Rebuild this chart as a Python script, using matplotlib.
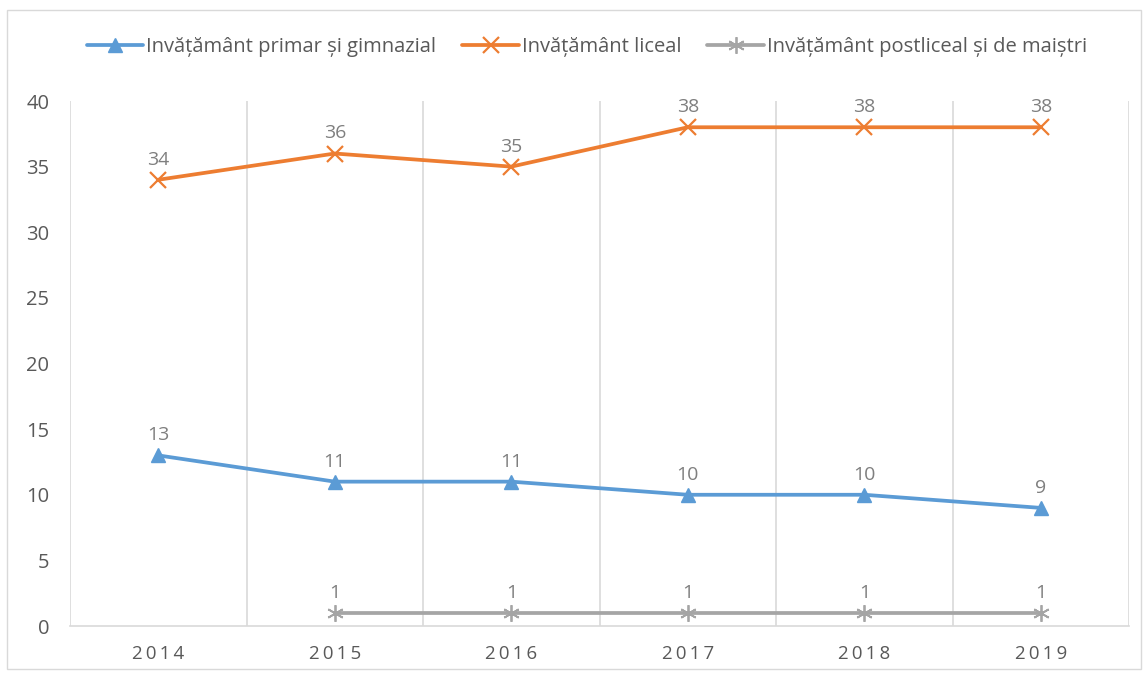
import matplotlib.pyplot as plt
import numpy as np
from matplotlib.patches import Rectangle

plt.rcParams['font.family'] = ['Open Sans', 'DejaVu Sans']

# === Data ===
years = ["2014", "2015", "2016", "2017", "2018", "2019"]
primar = [13, 11, 11, 10, 10, 9]
liceal = [34, 36, 35, 38, 38, 38]
postliceal = [np.nan, 1, 1, 1, 1, 1]

labels = ["Invățământ primar și gimnazial",
          "Invățământ liceal",
          "Invățământ postliceal și de maiștri"]

BLUE, ORANGE, GRAY = "#5B9BD5", "#ED7D31", "#A5A5A5"
TXT, LBL, GRID = "#595959", "#7F7F7F", "#D9D9D9"

fig = plt.figure(figsize=(11.44, 6.77), dpi=100)
ax = fig.add_axes([0.0612, 0.0753, 0.9257, 0.7755])

x = np.arange(len(years))
series = [
    (primar, BLUE, "^", dict(markersize=10)),
    (liceal, ORANGE, "x", dict(markersize=11, markeredgewidth=1.6)),
    (postliceal, GRAY, (6, 2, 0), dict(markersize=12, markeredgewidth=1.3)),
]
for (vals, col, mk, kw), lab in zip(series, labels):
    ax.plot(x, vals, color=col, lw=2.7, marker=mk, markerfacecolor=col,
            markeredgecolor=col, label=lab, solid_capstyle="round", **kw)
    for xi, v in zip(x, vals):
        if np.isnan(v):
            continue
        ax.annotate(f"{v:g}", (xi, v), xytext=(0, 8), textcoords="offset points",
                    ha="center", va="bottom", fontsize=14, color=LBL)

ax.set_xlim(-0.5, len(years) - 0.5)
ax.set_ylim(0, 40)
ax.set_yticks(range(0, 41, 5))
ax.set_xticks(x)
ax.set_xticklabels(["\u2009".join(y) for y in years])
ax.set_xticks(np.arange(-0.5, len(years), 1), minor=True)
ax.grid(True, axis="x", which="minor", color=GRID, lw=1.2)
ax.tick_params(axis="both", which="both", length=0, colors=TXT)
ax.tick_params(axis="y", pad=15, labelsize=14.5)
ax.tick_params(axis="x", pad=14, labelsize=13.5)
for s in ["top", "right", "left"]:
    ax.spines[s].set_visible(False)
ax.spines["bottom"].set_color(GRID)
ax.spines["bottom"].set_linewidth(1.2)

leg = fig.legend(loc="center", bbox_to_anchor=(0.513, 0.931), ncol=3, frameon=False,
                 fontsize=14.5, labelcolor=TXT, handlelength=2.8, columnspacing=1.3,
                 handletextpad=0.15)

# chart border
fig.patches.append(Rectangle((0.006, 0.012), 0.991, 0.973, transform=fig.transFigure,
                             fill=False, edgecolor=GRID, lw=1))

fig.savefig("out.png", dpi=100)
